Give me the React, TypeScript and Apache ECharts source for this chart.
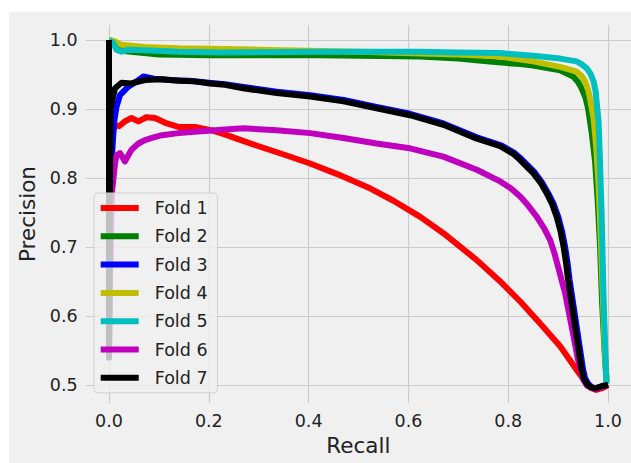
import React, { useEffect, useRef } from "react";
import * as echarts from "echarts";

const foldNames = ["Fold 1", "Fold 2", "Fold 3", "Fold 4", "Fold 5", "Fold 6", "Fold 7"];
const foldColors = ["#ff0000", "#008000", "#0000ff", "#bfbf00", "#00bfbf", "#bf00bf", "#000000"];
const xTicks = [0.0, 0.2, 0.4, 0.6, 0.8, 1.0];
const yTicks = [0.5, 0.6, 0.7, 0.8, 0.9, 1.0];

const fold1 = [[0,1],[0,0.7],[0.006,0.85],[0.009,0.87],[0.012,0.877],[0.02,0.875],[0.032,0.882],[0.045,0.887],[0.059,0.882],[0.075,0.888],[0.092,0.887],[0.116,0.879],[0.139,0.874],[0.172,0.874],[0.206,0.869],[0.229,0.864],[0.26,0.856],[0.3,0.846],[0.35,0.834],[0.403,0.821],[0.456,0.806],[0.523,0.785],[0.57,0.767],[0.623,0.744],[0.67,0.72],[0.737,0.681],[0.784,0.65],[0.824,0.621],[0.864,0.589],[0.904,0.556],[0.937,0.522],[0.954,0.505],[0.965,0.496],[0.976,0.493],[0.99,0.496],[1,0.5]];
const fold2 = [[0,1],[0.005,0.998],[0.015,0.99],[0.03,0.984],[0.06,0.982],[0.1,0.979],[0.2,0.978],[0.423,0.978],[0.623,0.976],[0.7,0.973],[0.757,0.969],[0.824,0.965],[0.85,0.963],[0.904,0.956],[0.93,0.947],[0.94,0.939],[0.947,0.93],[0.955,0.916],[0.96,0.901],[0.967,0.867],[0.974,0.824],[0.979,0.77],[0.984,0.7],[0.988,0.62],[0.993,0.55],[0.997,0.505]];
const fold3 = [[0,1],[0,0.54],[0.005,0.82],[0.01,0.88],[0.015,0.903],[0.022,0.92],[0.038,0.932],[0.055,0.94],[0.069,0.947],[0.09,0.944],[0.12,0.942],[0.16,0.941],[0.2,0.938],[0.232,0.936],[0.269,0.932],[0.336,0.925],[0.403,0.92],[0.47,0.913],[0.536,0.903],[0.603,0.893],[0.67,0.879],[0.737,0.859],[0.787,0.847],[0.813,0.836],[0.827,0.827],[0.853,0.808],[0.868,0.793],[0.88,0.778],[0.891,0.762],[0.9,0.744],[0.908,0.722],[0.914,0.7],[0.919,0.676],[0.923,0.652],[0.933,0.604],[0.943,0.556],[0.95,0.522],[0.954,0.51],[0.96,0.502],[0.967,0.497],[0.976,0.495],[0.991,0.499],[1,0.5]];
const fold4 = [[0,1],[0.012,0.998],[0.025,0.993],[0.072,0.99],[0.139,0.988],[0.3,0.986],[0.5,0.983],[0.7,0.979],[0.784,0.976],[0.85,0.969],[0.904,0.961],[0.937,0.954],[0.947,0.948],[0.954,0.94],[0.96,0.928],[0.964,0.915],[0.971,0.887],[0.976,0.848],[0.981,0.79],[0.985,0.72],[0.989,0.64],[0.993,0.56],[0.997,0.505]];
const fold5 = [[0,1],[0.009,0.995],[0.015,0.986],[0.025,0.983],[0.039,0.986],[0.072,0.985],[0.139,0.983],[0.226,0.982],[0.423,0.983],[0.623,0.983],[0.7,0.982],[0.784,0.981],[0.85,0.977],[0.904,0.973],[0.937,0.969],[0.947,0.965],[0.957,0.959],[0.965,0.951],[0.971,0.94],[0.975,0.926],[0.977,0.911],[0.981,0.882],[0.983,0.843],[0.985,0.795],[0.987,0.751],[0.989,0.69],[0.991,0.628],[0.994,0.56],[0.997,0.502]];
const fold6 = [[0,1],[0,0.6],[0.006,0.78],[0.009,0.8],[0.012,0.821],[0.015,0.833],[0.022,0.836],[0.032,0.824],[0.045,0.841],[0.059,0.85],[0.072,0.855],[0.086,0.858],[0.106,0.862],[0.139,0.865],[0.172,0.867],[0.226,0.87],[0.269,0.872],[0.336,0.869],[0.403,0.865],[0.47,0.858],[0.536,0.85],[0.603,0.843],[0.67,0.831],[0.737,0.812],[0.784,0.795],[0.805,0.785],[0.824,0.773],[0.84,0.76],[0.857,0.744],[0.872,0.727],[0.884,0.71],[0.893,0.69],[0.9,0.671],[0.914,0.633],[0.927,0.585],[0.94,0.536],[0.951,0.507],[0.958,0.499],[0.975,0.494],[1,0.5]];
const fold7 = [[0,1],[0,0.54],[0.003,0.9],[0.012,0.93],[0.025,0.938],[0.045,0.937],[0.072,0.942],[0.106,0.943],[0.139,0.941],[0.172,0.94],[0.202,0.937],[0.232,0.935],[0.269,0.93],[0.336,0.923],[0.403,0.918],[0.47,0.911],[0.536,0.901],[0.603,0.891],[0.67,0.877],[0.737,0.857],[0.784,0.846],[0.81,0.835],[0.824,0.826],[0.85,0.807],[0.865,0.793],[0.877,0.778],[0.888,0.762],[0.897,0.744],[0.905,0.722],[0.911,0.7],[0.916,0.676],[0.92,0.652],[0.93,0.604],[0.94,0.556],[0.947,0.522],[0.951,0.51],[0.957,0.502],[0.965,0.497],[0.974,0.495],[0.991,0.499],[1,0.5]];

const foldData = [fold1, fold2, fold3, fold4, fold5, fold6, fold7];

const FONT = "DejaVu Sans";
const TEXT = "#222222";

export default function App() {
  const ref = useRef<HTMLDivElement>(null);
  useEffect(() => {
    if (!ref.current) return;
    const chart = echarts.init(ref.current, null, { renderer: "svg" });
    chart.setOption({
      animation: false,
      backgroundColor: "#ffffff",
      graphic: [
        { type: "rect", left: 9, top: 12, shape: { width: 622, height: 451 }, style: { fill: "#f0f0f0" }, z: -10, silent: true },
      ],
      grid: { left: 85.7, right: 0, top: 25, bottom: 60, containLabel: false },
      xAxis: {
        type: "value",
        min: -0.0467,
        max: 1.046,
        name: "Recall",
        nameLocation: "middle",
        nameGap: 31.5,
        nameTextStyle: { fontFamily: FONT, fontSize: 21.5, color: TEXT },
        axisLine: { show: false },
        axisTick: { show: false, customValues: xTicks },
        axisLabel: {
          customValues: xTicks,
          formatter: (v: number) => v.toFixed(1),
          fontFamily: FONT, fontSize: 17.5, color: TEXT, margin: 9,
        },
        splitLine: { show: true, lineStyle: { color: "#cbcbcb", width: 1.2 } },
      },
      yAxis: {
        type: "value",
        min: 0.4739,
        max: 1.0217,
        name: "Precision",
        nameLocation: "middle",
        nameGap: 42,
        nameTextStyle: { fontFamily: FONT, fontSize: 21.5, color: TEXT },
        axisLine: { show: false },
        axisTick: { show: false, customValues: yTicks },
        axisLabel: {
          customValues: yTicks,
          formatter: (v: number) => v.toFixed(1),
          fontFamily: FONT, fontSize: 17.5, color: TEXT, margin: 8,
        },
        splitLine: { show: true, lineStyle: { color: "#cbcbcb", width: 1.2 } },
      },
      legend: {
        orient: "vertical",
        left: 94,
        top: 193,
        data: foldNames,
        icon: "rect",
        itemWidth: 38,
        itemHeight: 6,
        itemGap: 10.3,
        padding: [6, 10, 6, 6.7],
        backgroundColor: "rgba(240,240,240,0.8)",
        borderColor: "#d0d0d0",
        borderWidth: 1,
        borderRadius: 4,
        textStyle: { fontFamily: FONT, fontSize: 17.5, color: TEXT, padding: [0, 0, 0, 11] },
      },
      series: foldNames.map((name, i) => ({
        name,
        type: "line",
        data: foldData[i],
        showSymbol: false,
        symbol: "none",
        color: foldColors[i],
        lineStyle: { width: 6, color: foldColors[i], join: "round" },
        clip: true,
      })),
    });
    return () => chart.dispose();
  }, []);
  return (
    <div
      ref={ref}
      style={{ position: "absolute", left: 0, top: 0, width: 631, height: 463 }}
    />
  );
}
